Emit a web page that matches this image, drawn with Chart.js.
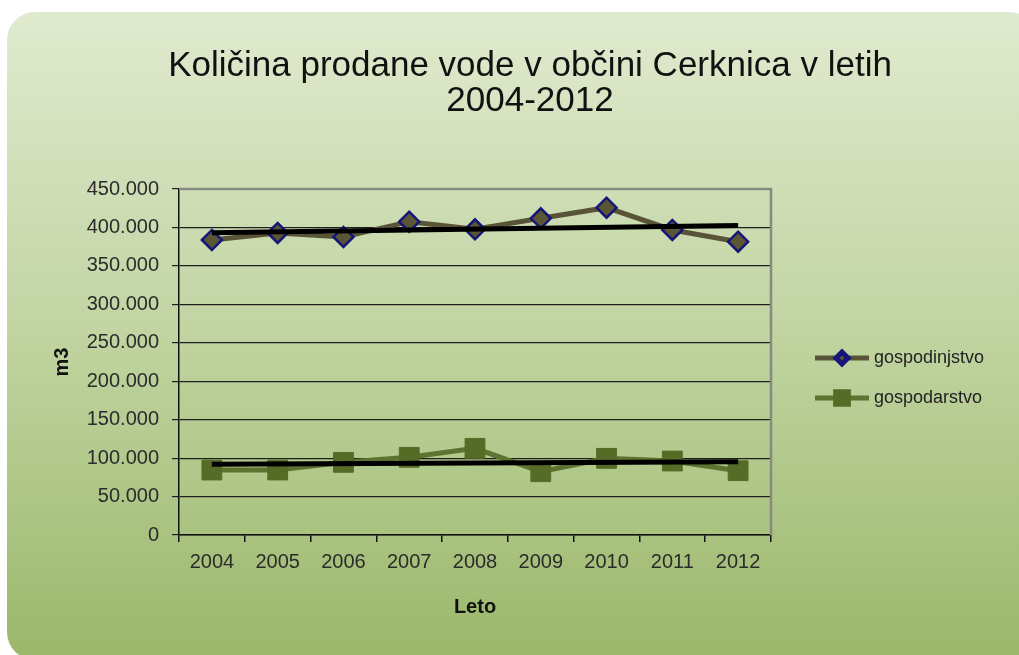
<!DOCTYPE html>
<html>
<head>
<meta charset="utf-8">
<title>Količina prodane vode</title>
<script src="https://cdn.jsdelivr.net/npm/chart.js@4.4.1/dist/chart.umd.min.js"></script>
<style>
    html, body { margin: 0; padding: 0; background: #ffffff; }
    canvas { display: block; }
</style>
</head>
<body>
<canvas id="graf" width="1019" height="655"></canvas>
<script>
// podatki (m3)
const leta = ['2004', '2005', '2006', '2007', '2008', '2009', '2010', '2011', '2012'];
const gospodinjstvo = [383700, 392800, 387600, 407500, 397600, 411900, 425700, 396700, 381500];
const gospodarstvo = [84500, 84500, 94500, 101000, 112700, 82300, 99700, 96200, 83600];
// linearni trend: vrednost v prvem in zadnjem letu
const trendGospodinjstvo = [393000, 402500];
const trendGospodarstvo = [92000, 95200];
const yTicks = [0, 50000, 100000, 150000, 200000, 250000, 300000, 350000, 400000, 450000];

const pisava = "'Liberation Sans', Arial, sans-serif";

// trend čez vsa leta, vmes prazno (spanGaps)
function trendNiz(konca) {
    const arr = leta.map(() => null);
    arr[0] = konca[0];
    arr[arr.length - 1] = konca[1];
    return arr;
}

function formatTisoc(v) {
    return String(v).replace(/\B(?=(\d{3})+(?!\d))/g, '.');
}

// ozadje z zaobljenimi robovi in prelivom
const ozadje = {
    id: 'ozadje',
    beforeDraw(chart) {
        const ctx = chart.ctx;
        ctx.save();
        ctx.fillStyle = '#ffffff';
        ctx.fillRect(0, 0, chart.width, chart.height);
        const g = ctx.createLinearGradient(0, 12, 0, 655);
        g.addColorStop(0, '#e0eacf');
        g.addColorStop(0.5, '#c1d4a1');
        g.addColorStop(1, '#9bb86c');
        ctx.fillStyle = g;
        ctx.beginPath();
        ctx.roundRect(7, 12, 1030, 648, 28);
        ctx.fill();
        ctx.restore();
    },
    beforeDatasetsDraw(chart) {
        // siv okvir zgoraj in desno
        const {ctx, chartArea: a} = chart;
        ctx.save();
        ctx.strokeStyle = '#868a80';
        ctx.lineWidth = 2.5;
        ctx.beginPath();
        ctx.moveTo(a.left, a.top);
        ctx.lineTo(a.right, a.top);
        ctx.lineTo(a.right, a.bottom);
        ctx.stroke();
        ctx.restore();
    }
};

// legenda: črta z oznako na sredini
const legenda = {
    id: 'legenda',
    afterDraw(chart) {
        const ctx = chart.ctx;
        const postavke = chart.data.datasets.filter(d => !d.trend);
        ctx.save();
        postavke.forEach((ds, i) => {
            const y = 358 + i * 40;
            ctx.strokeStyle = ds.borderColor;
            ctx.lineWidth = 5;
            ctx.beginPath();
            ctx.moveTo(815, y);
            ctx.lineTo(869, y);
            ctx.stroke();
            ctx.fillStyle = ds.pointBackgroundColor;
            ctx.strokeStyle = ds.pointBorderColor;
            Chart.helpers.drawPoint(ctx, {
                pointStyle: ds.pointStyle,
                radius: ds.legendRadius,
                borderWidth: 1.5,
                rotation: 0
            }, 842, y);
            ctx.fillStyle = '#222222';
            ctx.font = '18px ' + pisava;
            ctx.textBaseline = 'middle';
            ctx.textAlign = 'left';
            ctx.fillText(ds.label, 874, y);
        });
        ctx.restore();
    }
};

const ctx = document.getElementById('graf').getContext('2d');
new Chart(ctx, {
    type: 'line',
    data: {
        labels: leta,
        datasets: [{
            label: 'gospodinjstvo',
            data: gospodinjstvo,
            borderColor: '#595437',
            borderWidth: 5,
            pointStyle: 'rectRot',
            pointRadius: 10,
            pointBackgroundColor: '#5a5535',
            pointBorderColor: '#15157a',
            pointBorderWidth: 2.5,
            legendRadius: 6,
            tension: 0,
            order: 2
        }, {
            label: 'gospodarstvo',
            data: gospodarstvo,
            borderColor: '#5d7330',
            borderWidth: 5,
            pointStyle: 'rect',
            pointRadius: 14,
            pointBackgroundColor: '#556b26',
            pointBorderColor: '#556b26',
            pointBorderWidth: 1,
            legendRadius: 9,
            tension: 0,
            order: 2
        }, {
            label: 'trend gospodinjstvo',
            trend: true,
            data: trendNiz(trendGospodinjstvo),
            borderColor: '#000000',
            borderWidth: 5,
            pointRadius: 0,
            spanGaps: true,
            order: 1
        }, {
            label: 'trend gospodarstvo',
            trend: true,
            data: trendNiz(trendGospodarstvo),
            borderColor: '#000000',
            borderWidth: 5,
            pointRadius: 0,
            spanGaps: true,
            order: 1
        }]
    },
    options: {
        responsive: false,
        animation: false,
        layout: {
            padding: { left: 41, right: 0, top: 0, bottom: 0 }
        },
        plugins: {
            legend: { display: false },
            tooltip: { enabled: false },
            title: {
                display: true,
                text: ['Količina prodane vode v občini Cerknica v letih', '2004-2012'],
                color: '#111111',
                font: { family: pisava, size: 35, weight: 'normal', lineHeight: 1.0 },
                padding: { top: 49, bottom: 70 }
            }
        },
        scales: {
            x: {
                offset: true,
                afterFit: s => { s.height = 120; },
                grid: {
                    offset: true,
                    drawOnChartArea: false,
                    drawTicks: true,
                    tickLength: 7,
                    color: '#111111',
                    lineWidth: 1.5
                },
                border: { color: '#111111', width: 1.5 },
                ticks: {
                    color: '#2b2b2b',
                    padding: 8,
                    maxRotation: 0,
                    font: { family: pisava, size: 20 }
                },
                title: {
                    display: true,
                    text: 'Leto',
                    color: '#111111',
                    font: { family: pisava, size: 20, weight: 'bold' },
                    padding: { top: 0, bottom: 36 }
                }
            },
            y: {
                min: 0,
                max: 450000,
                afterFit: s => { s.width = 138; },
                afterBuildTicks: s => { s.ticks = yTicks.map(v => ({ value: v })); },
                grid: {
                    color: '#1e1e1e',
                    lineWidth: 1.2,
                    tickLength: 7
                },
                border: { color: '#111111', width: 1.5 },
                ticks: {
                    color: '#2b2b2b',
                    padding: 13,
                    font: { family: pisava, size: 20 },
                    callback: v => formatTisoc(v)
                },
                title: {
                    display: true,
                    text: 'm3',
                    color: '#111111',
                    font: { family: pisava, size: 20, weight: 'bold' },
                    padding: { top: 9, bottom: 0 }
                }
            },
            prostor: {
                position: 'right',
                afterFit: s => { s.width = 248; },
                grid: { display: false },
                border: { display: false },
                ticks: { display: false }
            }
        }
    },
    plugins: [ozadje, legenda]
});
</script>
</body>
</html>
